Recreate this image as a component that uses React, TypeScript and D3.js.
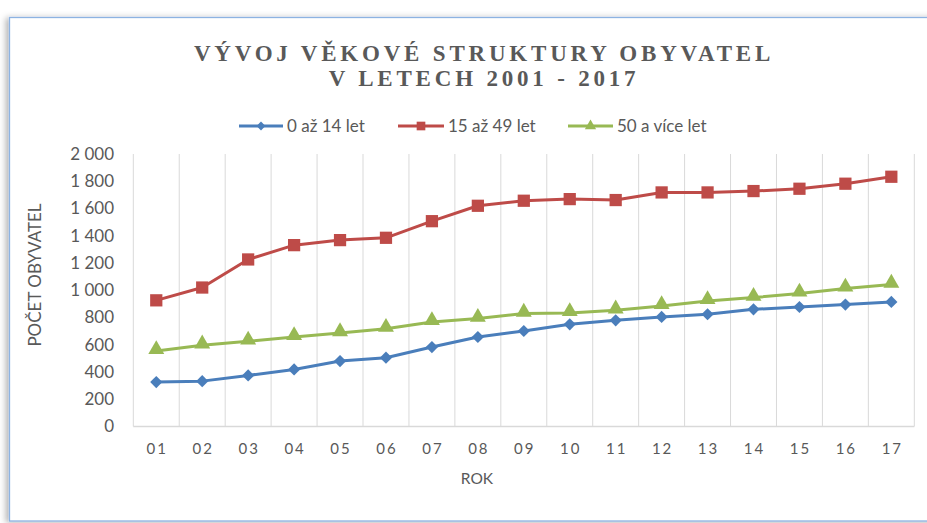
import React, { useEffect, useRef } from 'react';
import * as d3 from 'd3';

const years = ['01', '02', '03', '04', '05', '06', '07', '08', '09', '10', '11', '12', '13', '14', '15', '16', '17'];
const kids = [326, 333, 375, 419, 480, 505, 583, 657, 701, 750, 779, 804, 824, 860, 877, 895, 914];
const adults = [926, 1020, 1226, 1331, 1368, 1385, 1507, 1620, 1657, 1669, 1662, 1718, 1718, 1728, 1745, 1782, 1833];
const seniors = [554, 596, 625, 657, 686, 718, 767, 792, 829, 833, 853, 885, 921, 946, 976, 1013, 1042];
const seriesNames = ['0 až 14 let', '15 až 49 let', '50 a více let'];
const seriesColors = ['#4a7ebb', '#be4b48', '#98b954'];
const yTicks = [0, 200, 400, 600, 800, 1000, 1200, 1400, 1600, 1800, 2000];

const W = 927;
const H = 523;

function App() {
  const ref = useRef<SVGSVGElement>(null);

  useEffect(() => {
    const svg = d3.select(ref.current);
    svg.selectAll('*').remove();

    const left = 133.3, right = 914.3, top = 154, bottom = 426.5;
    const grey = '#595959';
    const font = 'Lato, "Liberation Sans", sans-serif';

    // frame with shadow
    const defs = svg.append('defs');
    const f = defs.append('filter').attr('id', 'sh').attr('x', '-5%').attr('y', '-5%').attr('width', '110%').attr('height', '110%');
    f.append('feDropShadow').attr('dx', -3).attr('dy', 1).attr('stdDeviation', 3).attr('flood-color', '#000').attr('flood-opacity', 0.3);

    svg.append('rect')
      .attr('x', 9.5).attr('y', 17.5).attr('width', 960).attr('height', 503.5)
      .attr('fill', '#fff').attr('stroke', '#8db3e2').attr('stroke-width', 1.3)
      .attr('filter', 'url(#sh)');

    // title
    const title = svg.append('text')
      .attr('text-anchor', 'middle')
      .attr('font-family', '"Liberation Serif", "DejaVu Serif", serif')
      .attr('font-weight', 'bold')
      .attr('font-size', 23)
      .attr('letter-spacing', 3.8)
      .attr('fill', grey);
    title.append('tspan').attr('x', 484).attr('y', 61).text('VÝVOJ VĚKOVÉ STRUKTURY OBYVATEL');
    title.append('tspan').attr('x', 484).attr('y', 86).text('V LETECH 2001 - 2017');

    const x = d3.scaleBand<string>().domain(years).range([left, right]).padding(0);
    const y = d3.scaleLinear().domain([0, 2000]).range([bottom, top]);
    const fmt = d3.formatLocale({ decimal: ',', thousands: '\u00a0', grouping: [3], currency: ['', ' Kč'] }).format(',d');

    // vertical gridlines at category boundaries
    const bounds = years.map(d => x(d) as number).concat([right]);
    svg.append('g').selectAll('line').data(bounds).join('line')
      .attr('x1', d => d).attr('x2', d => d)
      .attr('y1', top).attr('y2', bottom)
      .attr('stroke', '#d9d9d9').attr('stroke-width', 1);

    svg.append('line')
      .attr('x1', left).attr('x2', right).attr('y1', bottom).attr('y2', bottom)
      .attr('stroke', '#d9d9d9').attr('stroke-width', 1.3);

    // y tick labels
    svg.append('g').selectAll('text').data(yTicks).join('text')
      .attr('x', 114).attr('y', d => y(d))
      .attr('dy', '0.35em')
      .attr('text-anchor', 'end')
      .attr('font-family', font).attr('font-size', 17).attr('fill', grey)
      .text(d => fmt(d));

    // x tick labels
    svg.append('g').selectAll('text').data(years).join('text')
      .attr('x', d => (x(d) as number) + x.bandwidth() / 2 + 1).attr('y', 449)
      .attr('dy', '0.35em')
      .attr('text-anchor', 'middle')
      .attr('letter-spacing', 2)
      .attr('font-family', font).attr('font-size', 15).attr('fill', grey)
      .text(d => d);

    svg.append('text')
      .attr('x', 477).attr('y', 479).attr('dy', '0.35em')
      .attr('text-anchor', 'middle')
      .attr('font-family', font).attr('font-size', 15.5).attr('fill', grey)
      .text('ROK');

    svg.append('text')
      .attr('transform', 'translate(35,275) rotate(-90)')
      .attr('dy', '0.35em')
      .attr('text-anchor', 'middle')
      .attr('font-family', font).attr('font-size', 17).attr('fill', grey)
      .text('POČET OBYVATEL');

    const symbols = [
      d3.symbol().type(d3.symbolDiamond2).size(95),
      d3.symbol().type(d3.symbolSquare).size(150),
      d3.symbol().type(d3.symbolTriangle).size(110),
    ];
    const allSeries = [kids, adults, seniors];
    const cx = (i: number) => (x(years[i]) as number) + x.bandwidth() / 2;

    const line = d3.line<number>().x((_, i) => cx(i)).y(d => y(d));

    allSeries.forEach((vals, si) => {
      const g = svg.append('g');
      g.append('path')
        .attr('d', line(vals))
        .attr('fill', 'none')
        .attr('stroke', seriesColors[si])
        .attr('stroke-width', 3)
        .attr('stroke-linejoin', 'round');
      g.selectAll('path.m').data(vals).join('path')
        .attr('class', 'm')
        .attr('transform', (d, i) => `translate(${cx(i)},${y(d) + (si === 2 ? -1.5 : 0)})`)
        .attr('d', symbols[si]() as string)
        .attr('fill', seriesColors[si]);
    });

    // legend
    const legendItems = [
      { x0: 239, x1: 283, tx: 287 },
      { x0: 398, x1: 444, tx: 448 },
      { x0: 568, x1: 613, tx: 617 },
    ];
    const legendSymbols = [
      d3.symbol().type(d3.symbolDiamond2).size(50),
      d3.symbol().type(d3.symbolSquare).size(75),
      d3.symbol().type(d3.symbolTriangle).size(55),
    ];
    const ly = 126;
    legendItems.forEach((it, i) => {
      const g = svg.append('g');
      g.append('line')
        .attr('x1', it.x0).attr('x2', it.x1).attr('y1', ly).attr('y2', ly)
        .attr('stroke', seriesColors[i]).attr('stroke-width', 3);
      g.append('path')
        .attr('transform', `translate(${(it.x0 + it.x1) / 2},${ly})`)
        .attr('d', legendSymbols[i]() as string)
        .attr('fill', seriesColors[i]);
      g.append('text')
        .attr('x', it.tx).attr('y', ly).attr('dy', '0.35em')
        .attr('font-family', font).attr('font-size', 17).attr('fill', grey)
        .text(seriesNames[i]);
    });
  }, []);

  return (
    <svg ref={ref} width={W} height={H} style={{ position: 'absolute', left: 0, top: 0, background: '#fff' }} />
  );
}

export default App;
